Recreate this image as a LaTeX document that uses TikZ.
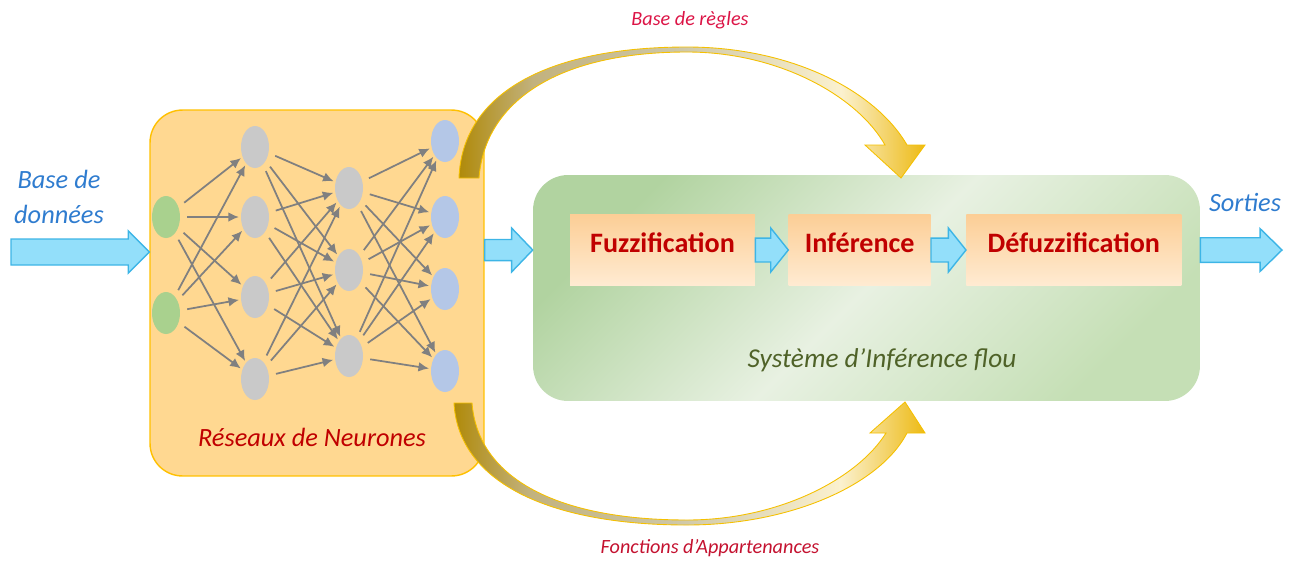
\documentclass[tikz,border=0pt]{standalone}
\usepackage{fontspec}
\setmainfont{Carlito}
\usepackage{tikz}
\usetikzlibrary{calc}
\usetikzlibrary{arrows.meta, positioning, shapes}
\definecolor{NET}{HTML}{FFD891}
\definecolor{NETB}{HTML}{FFC000}
\definecolor{SIFT}{HTML}{B1D3A0}
\definecolor{SIFM}{HTML}{E8F1E2}
\definecolor{SIFB}{HTML}{C5DFB5}
\definecolor{GIN}{HTML}{A9D18E}
\definecolor{GHID}{HTML}{C9C9C9}
\definecolor{GOUT}{HTML}{B4C7E7}
\definecolor{WIRE}{HTML}{808080}
\definecolor{STGT}{HTML}{FCCE96}
\definecolor{STGB}{HTML}{FFEBD2}
\definecolor{ARW}{HTML}{93DFFA}
\definecolor{ARWB}{HTML}{3DB5E6}
\definecolor{RED}{HTML}{C00000}
\definecolor{GRN}{HTML}{4F6228}
\definecolor{BLU}{HTML}{2F7CCF}
\definecolor{RULE}{HTML}{DC1446}
\definecolor{MEMB}{HTML}{C41230}
\definecolor{ARCD}{HTML}{B08A0A}
\definecolor{ARCM}{HTML}{C2B27E}
\definecolor{ARCT}{HTML}{CDC6A6}
\definecolor{ARCC}{HTML}{FBF1CF}
\definecolor{ARCG}{HTML}{EDBA14}
\definecolor{ARCB}{HTML}{F5C000}
\pgfdeclarehorizontalshading{arcshade}{100bp}{color(0bp)=(ARCD); color(25bp)=(ARCD);
  color(33bp)=(ARCM); color(48bp)=(ARCT); color(66bp)=(ARCC); color(75bp)=(ARCG); color(100bp)=(ARCG)}
\tikzset{
  NEU/.style={% Style for the neurons
      ellipse,
      minimum width=.56cm,
      minimum height=.84cm,
      inner sep=0pt
  },
  WIRE/.style={% Style for the weights between layers
      draw=WIRE,
      line width=1pt,
      -{Latex[length=6pt,width=5.5pt]},
      shorten <=4pt, shorten >=1pt
  },
  STG/.style={% Style for the fuzzy stages
      rectangle,
      top color=STGT, bottom color=STGB,
      minimum height=1.42cm,
      text height=10pt,
          text depth=6.6pt,
      font=\fontsize{16}{19}\selectfont\bfseries,
      text=RED
  },
  BLK/.style={fill=ARW, draw=ARWB, line width=.8pt, line join=miter},
  ARC/.style={shade, shading=arcshade, draw=ARCB, line width=.5pt}
}
\newcommand\blockarrow[5]{% from, to, half body, half head, head length
  \path[BLK] let \p1=(#1), \p2=(#2) in
    (\x1,\y1+#3) -- (\x2-#5,\y1+#3) -- (\x2-#5,\y1+#4) -- (\x2,\y1)
    -- (\x2-#5,\y1-#4) -- (\x2-#5,\y1-#3) -- (\x1,\y1-#3) -- cycle;
}

\begin{document}
\begin{tikzpicture}[x=0.02cm, y=-0.02cm]
  \useasboundingbox (0,0) rectangle (1302,562);
  % the two big blocks
  \node[rectangle, rounded corners=.65cm, fill=NET, draw=NETB, line width=.8pt,
    minimum width=6.68cm, minimum height=7.32cm] (rn) at (317,293) {};
  \node[rectangle, rounded corners=.7cm, top color=SIFT, bottom color=SIFB, middle color=SIFM,
    shading angle=45, minimum width=13.34cm, minimum height=4.52cm] (sif) at (866.5,288) {};
  \node[font=\fontsize{15}{18}\selectfont\itshape, text=RED] (rnlabel) at (312,437) {Réseaux de Neurones};
  \node[font=\fontsize{15.5}{18}\selectfont\itshape, text=GRN] (siflabel) at (882,360) {Système d’Inférence flou};

  % neurons
  \foreach \y [count=\i] in {217,313} \node[NEU, fill=GIN] (i\i) at (166,\y) {};
  \foreach \y [count=\i] in {147,217,297,379} \node[NEU, fill=GHID] (h\i) at (255,\y) {};
  \foreach \y [count=\i] in {188,270,356} \node[NEU, fill=GHID] (g\i) at (349,\y) {};
  \foreach \y [count=\i] in {141,217,289,371} \node[NEU, fill=GOUT] (o\i) at (445,\y) {};
  \foreach \a in {1,2} \foreach \b in {1,...,4} \draw[WIRE] (i\a) -- (h\b);
  \foreach \a in {1,...,4} \foreach \b in {1,2,3} \draw[WIRE] (h\a) -- (g\b);
  \foreach \a in {1,2,3} \foreach \b in {1,...,4} \draw[WIRE] (g\a) -- (o\b);

  % fuzzy stages
  \node[STG, minimum width=3.7cm] (fuzz) at (662.5,250) {Fuzzification};
  \node[STG, minimum width=2.84cm, right=.66cm of fuzz] (inf) {Inférence};
  \node[STG, minimum width=4.3cm, right=.7cm of inf] (defuzz) {Défuzzification};

  % blue arrows
  \coordinate (dbin) at (11,252);
  \coordinate (out) at (1282,251);
  \blockarrow{dbin}{dbin -| rn.west}{7.4pt}{12pt}{12pt}
  \blockarrow{rn.east |- fuzz}{sif.west |- fuzz}{6pt}{12.5pt}{12pt}
  \blockarrow{fuzz.east}{inf.west}{6.8pt}{12.5pt}{10pt}
  \blockarrow{inf.east}{defuzz.west}{6.8pt}{12.5pt}{10pt}
  \blockarrow{sif.east |- defuzz}{out}{7pt}{12.2pt}{12.5pt}
  \node[font=\fontsize{15}{19.5}\selectfont\itshape, text=BLU, align=center] (db) at (59,197) {Base de\\données};
  \node[font=\fontsize{15}{18}\selectfont\itshape, text=BLU] (sorties) at (1245,202) {Sorties};

  % curved arrows
  \coordinate (rulesin) at (901,178);
  \coordinate (mfin) at (905,402);
  \path[ARC] (459,178) .. controls (462,95) and (545,47) .. (687,47)
    .. controls (790,47) and (875,90) .. (907,145) -- (925,145) -- (rulesin) -- (865,145) -- (885,145)
    .. controls (858,97) and (780,52) .. (687,52) .. controls (560,52) and (485,100) .. (479,178) -- cycle;
  \path[ARC] (454,403) .. controls (458,480) and (545,525) .. (687,525)
    .. controls (790,525) and (880,485) .. (907,433) -- (925,433) -- (mfin) -- (870,433) -- (886,433)
    .. controls (858,478) and (780,520) .. (687,520) .. controls (560,520) and (478,480) .. (472,403) -- cycle;
  \node[font=\fontsize{11.5}{14}\selectfont\itshape, text=RULE] (rules) at (690,20) {Base de règles};
  \node[font=\fontsize{11.5}{14}\selectfont\itshape, text=MEMB] (membership) at (710,548) {Fonctions d’Appartenances};
\end{tikzpicture}
\end{document}
